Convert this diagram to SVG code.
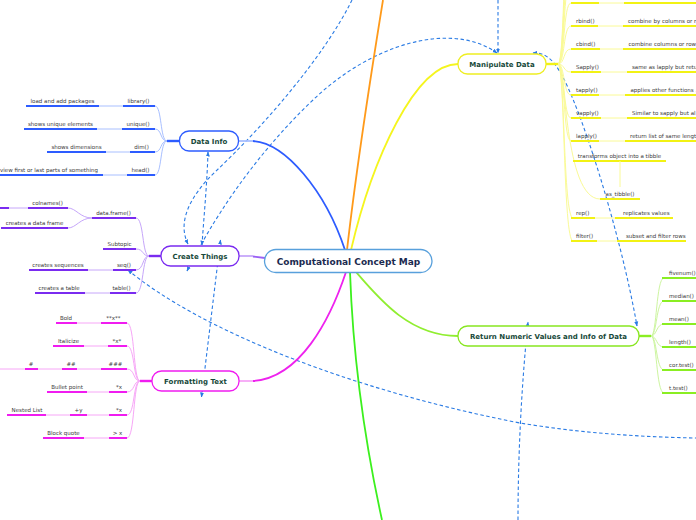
<svg xmlns="http://www.w3.org/2000/svg" width="696" height="520" viewBox="0 0 696 520">
<defs>
<marker id="arr" viewBox="0 0 10 10" refX="9" refY="5" markerWidth="5" markerHeight="5" markerUnits="userSpaceOnUse" orient="auto-start-reverse"><path d="M0,1 L10,5 L0,9 z" fill="#2a7be4"/></marker>
</defs>
<style>
.lbl{font-family:"DejaVu Sans",Verdana,sans-serif;font-size:5.5px;fill:#3a3a3a}
.mid{text-anchor:middle}
.nt{font-family:"DejaVu Sans",Verdana,sans-serif;font-weight:bold;font-size:7px;fill:#17493a;text-anchor:middle}
.ct{font-family:"DejaVu Sans",Verdana,sans-serif;font-weight:bold;font-size:9px;fill:#1c2b50;text-anchor:middle}
.dash{fill:none;stroke:#2a7be4;stroke-width:1.1;stroke-dasharray:3.5 2.5}
.br{fill:none;stroke-width:1.8}
.tk{fill:none;stroke-width:1.8}
.tn{fill:none;stroke-width:1}
.fan{fill:none;stroke-width:1}
.stem{fill:none;stroke-width:2.4}
.box{fill:#fff;stroke-width:1.3}
.blue .tk,.blue .stem{stroke:#2d5cff}.blue .tn,.blue .fan{stroke:#a8bfff}.blue .box{stroke:#2d5cff}
.purple .tk,.purple .stem{stroke:#7a2bf0}.purple .tn,.purple .fan{stroke:#c6a6fa}.purple .box{stroke:#7a2bf0}
.mag .tk,.mag .stem{stroke:#f01cf0}.mag .tn,.mag .fan{stroke:#f7a6f7}.mag .box{stroke:#f01cf0}
.yel .tk,.yel .stem{stroke:#f2f214}.yel .tn,.yel .fan{stroke:#fafa96}.yel .box{stroke:#eeee22}
.lg .tk,.lg .stem{stroke:#8aee22}.lg .tn,.lg .fan{stroke:#cdf5a0}.lg .box{stroke:#88e620}
</style>

<g id="connectors">
<path class="dash" d="M208,152 C207,185 204,215 202,245" marker-start="url(#arr)" marker-end="url(#arr)"/>
<path class="dash" d="M220.5,240 L201.5,397" marker-start="url(#arr)" marker-end="url(#arr)"/>
<path class="dash" d="M352,0 C325,55 265,125 215,172 C190,196 177,222 188,244" marker-end="url(#arr)"/>
<path class="dash" d="M187,271 C210,225 250,160 313,100 C370,45 450,20 497,53" marker-start="url(#arr)" marker-end="url(#arr)"/>
<path class="dash" d="M498,0 V53" marker-end="url(#arr)"/>
<path class="dash" d="M533,53 C545,52 553,60 560,72 C580,105 620,230 637,326" marker-start="url(#arr)" marker-end="url(#arr)"/>
<path class="dash" d="M518,520 C518,450 522,380 528,322" marker-end="url(#arr)"/>
<path class="dash" d="M128,270 C200,330 350,390 520,423 C580,433 640,437 696,438" marker-start="url(#arr)"/>
</g>

<g id="branches">
<path class="br" stroke="#a8bfff" d="M239,141H253"/>
<path class="br" stroke="#2d5cff" d="M253,141 C285,143 325,190 345,250"/>
<path class="br" stroke="#ff9a1a" d="M347,250 C355,180 370,80 383,0"/>
<path class="br" stroke="#f5f51e" d="M351,250 C372,160 415,64 458,64"/>
<path class="br" stroke="#c6a6fa" d="M239,256H253"/>
<path class="br" stroke="#9a60f5" d="M253,256.5 L265,258"/>
<path class="br" stroke="#f7a6f7" d="M239,381H253"/>
<path class="br" stroke="#ee22ee" d="M253,381 C300,378 330,320 346,272"/>
<path class="br" stroke="#3cf01e" d="M350,272 C352,330 360,420 382,520"/>
<path class="br" stroke="#90ee30" d="M356,272 C380,300 410,336 458,336"/>
</g>

<g id="data-info" class="blue">
<path class="stem" d="M167,141H180"/>
<path class="fan" d="M167,141C160,141 162,106 155,106 M167,141C160,141 162,129 155,129 M167,141C160,141 162,152 155,152 M167,141C160,141 162,175 155,175"/>
<path class="tk" d="M123,106H155 M26,106H99 M122,129H155 M24,129H97 M130,152H155 M47,152H106 M127,175H155 M0,175H103"/>
<path class="tn" d="M99,106H123 M97,129H122 M106,152H130 M103,175H127"/>
<text class="lbl mid" x="138.5" y="102.5">library()</text>
<text class="lbl mid" x="62.5" y="102.5">load and add packages</text>
<text class="lbl mid" x="138" y="125.5">unique()</text>
<text class="lbl mid" x="60.5" y="125.5">shows unique elements</text>
<text class="lbl mid" x="141.5" y="148.5">dim()</text>
<text class="lbl mid" x="76.5" y="148.5">shows dimensions</text>
<text class="lbl mid" x="140.5" y="171.5">head()</text>
<text class="lbl mid" x="49" y="171.5">view first or last parts of something</text>
<rect class="box" x="179.5" y="131" width="59" height="20" rx="9.5"/>
<text class="nt" x="209" y="143.5">Data Info</text>
</g>

<g id="create-things" class="purple">
<path class="stem" d="M149,256H162"/>
<path class="fan" d="M149,256C142,256 144,218 136,218 M149,256C142,256 144,249 136,249 M149,256C142,256 144,270 136,270 M149,256C142,256 144,293 136,293 M92,218C80,218 76,208 68,208 M92,218C80,218 76,228 68,228"/>
<path class="tk" d="M92,218H136 M28,208H68 M0,208H9 M1,228H68 M103,249H136 M113,270H136 M29,270H88 M110,293H136 M35,293H85"/>
<path class="tn" d="M9,208H28 M88,270H113 M85,293H110"/>
<text class="lbl mid" x="113.5" y="214.5">data.frame()</text>
<text class="lbl mid" x="47.5" y="204.5">colnames()</text>
<text class="lbl mid" x="34.5" y="224.5">creates a data frame</text>
<text class="lbl mid" x="119.5" y="245.5">Subtopic</text>
<text class="lbl mid" x="124" y="266.5">seq()</text>
<text class="lbl mid" x="58" y="266.5">creates sequences</text>
<text class="lbl mid" x="121.5" y="289.5">table()</text>
<text class="lbl mid" x="59" y="289.5">creates a table</text>
<rect class="box" x="161" y="246" width="78" height="20" rx="9.5"/>
<text class="nt" x="200" y="258.5">Create Things</text>
</g>

<g id="formatting-text" class="mag">
<path class="stem" d="M140,381H153"/>
<path class="fan" d="M140,381C133,381 135,323 127,323 M140,381C133,381 135,346 127,346 M140,381C133,381 135,369 127,369 M140,381C133,381 135,392 127,392 M140,381C133,381 135,415 127,415 M140,381C133,381 135,438 127,438"/>
<path class="tk" d="M101,323H127 M56,323H77 M108,346H127 M53,346H84 M101,369H127 M62,369H77 M25,369H38 M109,392H127 M47,392H87 M109,415H127 M70,415H87 M7,415H46 M109,438H127 M43,438H84"/>
<path class="tn" d="M77,323H101 M84,346H108 M77,369H101 M38,369H62 M0,369H25 M87,392H109 M87,415H109 M46,415H70 M84,438H109"/>
<text class="lbl mid" x="113.5" y="319.5">**x**</text>
<text class="lbl mid" x="66" y="319.5">Bold</text>
<text class="lbl mid" x="117" y="342.5">*x*</text>
<text class="lbl mid" x="68.5" y="342.5">Italicize</text>
<text class="lbl mid" x="115.5" y="365.5">###</text>
<text class="lbl mid" x="71" y="365.5">##</text>
<text class="lbl mid" x="31" y="365.5">#</text>
<text class="lbl mid" x="119" y="388.5">*x</text>
<text class="lbl mid" x="67" y="388.5">Bullet point</text>
<text class="lbl mid" x="119" y="411.5">*x</text>
<text class="lbl mid" x="78.5" y="411.5">+y</text>
<text class="lbl mid" x="27" y="411.5">Nested List</text>
<text class="lbl mid" x="117.5" y="434.5">&gt; x</text>
<text class="lbl mid" x="63.5" y="434.5">Block quote</text>
<rect class="box" x="152" y="371" width="87" height="20" rx="9.5"/>
<text class="nt" x="195.5" y="383.5">Formatting Text</text>
</g>

<g id="manipulate-data" class="yel">
<path class="stem" d="M545,64H558"/>
<path class="fan" d="M558,64C565,64 563,-89 571,-89 M558,64C565,64 563,-66 571,-66 M558,64C565,64 563,-43 571,-43 M558,64C565,64 563,-20 571,-20 M558,64C565,64 563,3 571,3 M558,64C565,64 563,26 571,26 M558,64C565,64 563,49 571,49 M558,64C565,64 563,72 571,72 M558,64C565,64 563,95 571,95 M558,64C565,64 563,118 571,118 M558,64C565,64 563,141 571,141 M558,64C566,64 564,199 600,199 M558,64C565,64 563,218 573,218 M558,64C565,64 563,241 573,241"/>
<path class="tk" d="M571,3H599 M624,3H696 M571,26H598 M623,26H696 M571,49H600 M623,49H696 M571,72H601 M627,72H696 M571,95H599 M625,95H696 M571,118H601 M627,118H696 M571,141H599 M625,141H696 M573,161H666 M600,199H640 M571,218H595 M615,218H673 M571,241H597 M617,241H686"/>
<path class="tn" d="M599,3H624 M598,26H623 M600,49H623 M601,72H627 M599,95H625 M601,118H627 M599,141H625 M620,161V187 M595,218H615 M597,241H617"/>
<text class="lbl" x="576" y="22.5">rbind()</text>
<text class="lbl" x="628" y="22.5">combine by columns or r</text>
<text class="lbl" x="576" y="45.5">cbind()</text>
<text class="lbl" x="628.5" y="45.5">combine columns or row</text>
<text class="lbl" x="576" y="68.5">Sapply()</text>
<text class="lbl" x="632" y="68.5">same as lapply but retu</text>
<text class="lbl" x="576" y="91.5">tapply()</text>
<text class="lbl" x="630.5" y="91.5">applies other functions .</text>
<text class="lbl" x="576" y="114.5">vapply()</text>
<text class="lbl" x="632" y="114.5">Similar to sapply but al</text>
<text class="lbl" x="576" y="137.5">lapply()</text>
<text class="lbl" x="630" y="137.5">return list of same lengt</text>
<text class="lbl mid" x="619.5" y="157.5">transforms object into a tibble</text>
<text class="lbl mid" x="620" y="195.5">as_tibble()</text>
<text class="lbl" x="576" y="214.5">rep()</text>
<text class="lbl" x="623" y="214.5">replicates values</text>
<text class="lbl" x="576" y="237.5">filter()</text>
<text class="lbl" x="626" y="237.5">subset and filter rows</text>
<rect class="box" x="458" y="54" width="88" height="20" rx="9.5"/>
<text class="nt" x="502" y="66.5">Manipulate Data</text>
</g>

<g id="return-numeric" class="lg">
<path class="stem" d="M638,336H651"/>
<path class="fan" d="M651,336C657,336 656,278 664,278 M651,336C657,336 656,301 664,301 M651,336C657,336 656,324 664,324 M651,336C657,336 656,347 664,347 M651,336C657,336 656,370 664,370 M651,336C657,336 656,393 664,393"/>
<path class="tk" d="M662,278H696 M662,301H696 M662,324H696 M662,347H696 M662,370H696 M662,393H696"/>
<text class="lbl" x="669" y="274.5">fivenum()</text>
<text class="lbl" x="669" y="297.5">median()</text>
<text class="lbl" x="669" y="320.5">mean()</text>
<text class="lbl" x="669" y="343.5">length()</text>
<text class="lbl" x="669" y="366.5">cor.test()</text>
<text class="lbl" x="669" y="389.5">t.test()</text>
<rect class="box" x="458" y="326" width="181" height="20" rx="9.5"/>
<text class="nt" x="548.5" y="338.5">Return Numeric Values and Info of Data</text>
</g>

<g id="central">
<rect x="264.5" y="249.5" width="167.5" height="23" rx="11.5" fill="#fff" stroke="#58a0dc" stroke-width="1.3"/>
<text class="ct" x="348.5" y="264.5">Computational Concept Map</text>
</g>
</svg>
